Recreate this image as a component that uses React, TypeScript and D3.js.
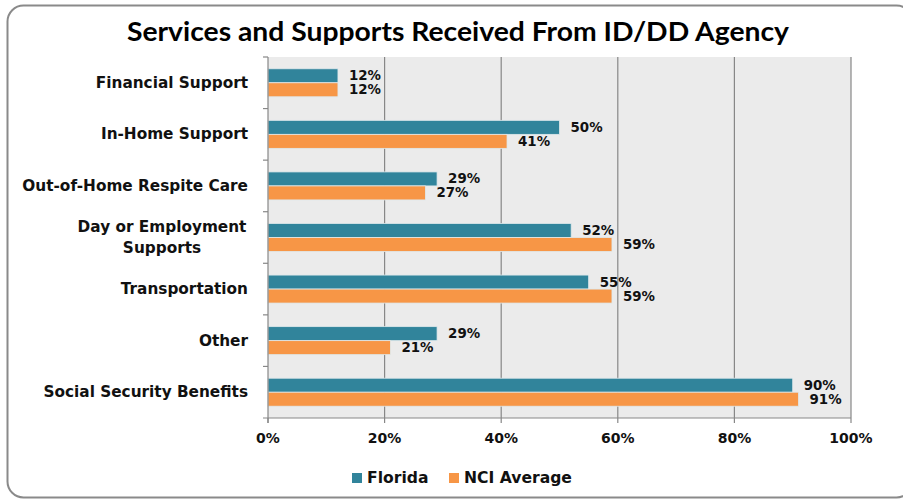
import React from "react";
import * as d3 from "d3";

const categories = [
  "Financial Support",
  "In-Home Support",
  "Out-of-Home Respite Care",
  "Day or Employment Supports",
  "Transportation",
  "Other",
  "Social Security Benefits",
];
const categoryLines = [
  ["Financial Support"],
  ["In-Home Support"],
  ["Out-of-Home Respite Care"],
  ["Day or Employment", "Supports"],
  ["Transportation"],
  ["Other"],
  ["Social Security Benefits"],
];
const florida = [12, 50, 29, 52, 55, 29, 90];
const nciAverage = [12, 41, 27, 59, 59, 21, 91];
const seriesNames = ["Florida", "NCI Average"];
const xTicks = [0, 20, 40, 60, 80, 100];

const W = 903;
const H = 502;
const left = 268;
const right = 851;
const top = 57;
const bottom = 418;
const colors = ["#31849B", "#F79646"];
const font = "'DejaVu Sans', Verdana, sans-serif";

export default function App() {
  const x = d3.scaleLinear().domain([0, 100]).range([left, right]);
  const y = d3.scaleBand().domain(categories).range([top, bottom]).paddingInner(0).paddingOuter(0);
  const bw = y.bandwidth();
  const barH = 14;
  const series = [florida, nciAverage];

  return (
    <svg width={W} height={H} style={{ position: "absolute", left: 0, top: 0, background: "#fff" }}>
      <rect x={7.5} y={5.5} width={905} height={492} rx={16} ry={16} fill="#fff" stroke="#8a8a8a" strokeWidth={2} />
      <text x={458} y={41} textAnchor="middle" fontFamily="Lato, 'Open Sans', sans-serif" fontWeight="bold" fontSize={26} fill="#000" textLength={662} lengthAdjust="spacingAndGlyphs">
        Services and Supports Received From ID/DD Agency
      </text>
      <rect x={left} y={top} width={right - left} height={bottom - top} fill="#EBEBEB" />
      {xTicks.slice(1).map((t) => (
        <line key={t} x1={x(t)} x2={x(t)} y1={top} y2={bottom} stroke="#878787" strokeWidth={1.2} />
      ))}
      {categories.map((c, i) =>
        series.map((s, k) => {
          const y0 = (y(c) as number) + bw / 2 - barH + k * barH;
          return (
            <g key={c + k}>
              <rect x={x(0)} y={y0} width={x(s[i]) - x(0)} height={barH} fill={colors[k]} stroke="#dfe9ec" strokeWidth={0.8} />
              <text x={x(s[i]) + 11} y={y0 + barH / 2 + 4.5} fontFamily={font} fontWeight="bold" fontSize={13.4} fill="#111">
                {s[i]}%
              </text>
            </g>
          );
        })
      )}
      <line x1={left} x2={left} y1={top} y2={bottom + 5} stroke="#878787" strokeWidth={1.2} />
      <line x1={left - 5} x2={right} y1={bottom} y2={bottom} stroke="#878787" strokeWidth={1.2} />
      {categories.map((c, i) => (
        <line key={"t" + i} x1={left - 5} x2={left} y1={y(c) as number} y2={y(c) as number} stroke="#878787" strokeWidth={1.2} />
      ))}
      {xTicks.map((t) => (
        <g key={"x" + t}>
          <line x1={x(t)} x2={x(t)} y1={bottom} y2={bottom + 5} stroke="#878787" strokeWidth={1.2} />
          <text x={x(t)} y={bottom + 25} textAnchor="middle" fontFamily={font} fontWeight="bold" fontSize={14} fill="#111">
            {t}%
          </text>
        </g>
      ))}
      {categories.map((c, i) => {
        const lines = categoryLines[i];
        const cy = (y(c) as number) + bw / 2;
        const multi = lines.length > 1;
        return (
          <text key={"c" + i} textAnchor={multi ? "middle" : "end"} fontFamily={font} fontWeight="bold" fontSize={15.3} fill="#111">
            {lines.map((l, j) => (
              <tspan key={j} x={multi ? 162 : 248} y={cy + 5 + (j - (lines.length - 1) / 2) * 21}>
                {l}
              </tspan>
            ))}
          </text>
        );
      })}
      {seriesNames.map((n, k) => {
        const lx = k === 0 ? 352 : 449;
        return (
          <g key={n}>
            <rect x={lx} y={473} width={10} height={10} fill={colors[k]} />
            <text x={lx + 15} y={483} fontFamily={font} fontWeight="bold" fontSize={15.6} fill="#111">
              {n}
            </text>
          </g>
        );
      })}
    </svg>
  );
}
